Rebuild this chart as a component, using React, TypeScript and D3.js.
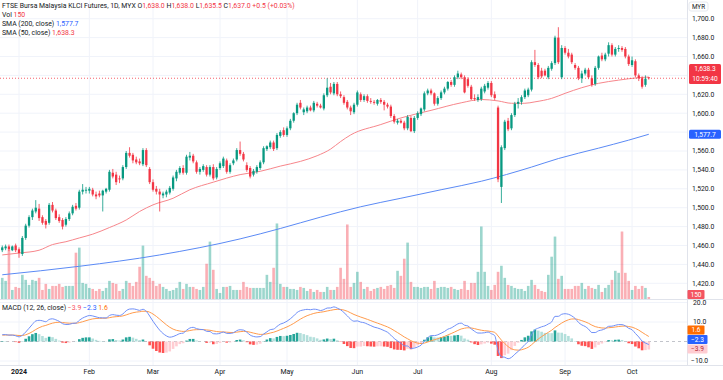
import React from "react";
import * as d3 from "d3";

const W = 723;
const H = 380;

// [open, high, low, close] per daily bar (late Dec 2023 -> 8 Oct 2024)
const candles: [number, number, number, number][] = [
  [1455, 1460, 1453, 1458], [1457, 1461, 1455, 1459], [1459, 1461, 1454, 1456], [1455, 1460, 1454, 1459], [1460, 1462, 1453, 1455],
  [1456, 1458, 1447, 1452], [1451, 1470, 1449, 1468], [1468, 1483, 1466, 1481], [1481, 1492, 1479, 1490], [1490, 1499, 1487, 1497],
  [1496, 1508, 1494, 1500], [1499, 1504, 1486, 1489], [1490, 1492, 1482, 1484], [1486, 1488, 1478, 1482], [1484, 1505, 1482, 1503],
  [1503, 1506, 1495, 1497], [1497, 1499, 1487, 1489], [1490, 1493, 1484, 1486], [1487, 1489, 1477, 1480], [1482, 1490, 1480, 1488],
  [1488, 1496, 1486, 1494], [1494, 1503, 1492, 1501], [1502, 1505, 1497, 1499], [1500, 1519, 1498, 1517], [1517, 1525, 1514, 1519],
  [1518, 1522, 1515, 1519], [1518, 1522, 1515, 1520], [1519, 1521, 1512, 1514], [1514, 1517, 1509, 1512], [1515, 1518, 1511, 1513],
  [1513, 1519, 1496, 1518], [1517, 1521, 1515, 1520], [1519, 1540, 1517, 1538], [1537, 1541, 1531, 1533], [1535, 1538, 1524, 1527],
  [1531, 1534, 1526, 1530], [1531, 1545, 1529, 1543], [1543, 1560, 1541, 1558], [1558, 1564, 1553, 1555], [1556, 1558, 1547, 1550],
  [1551, 1554, 1546, 1548], [1549, 1552, 1545, 1547], [1546, 1563, 1544, 1561], [1561, 1563, 1543, 1545], [1541, 1543, 1525, 1527],
  [1527, 1530, 1517, 1519], [1520, 1523, 1514, 1517], [1517, 1520, 1496, 1514], [1513, 1517, 1510, 1515], [1514, 1519, 1511, 1517],
  [1516, 1523, 1514, 1521], [1520, 1534, 1518, 1532], [1531, 1540, 1528, 1538], [1537, 1544, 1535, 1542], [1542, 1545, 1535, 1537],
  [1537, 1556, 1535, 1554], [1553, 1559, 1550, 1555], [1555, 1557, 1547, 1549], [1548, 1550, 1536, 1538], [1538, 1543, 1535, 1541],
  [1540, 1546, 1538, 1544], [1543, 1545, 1533, 1535], [1535, 1545, 1533, 1543], [1543, 1546, 1529, 1531], [1532, 1543, 1530, 1541],
  [1542, 1549, 1540, 1547], [1544, 1554, 1542, 1552], [1550, 1552, 1536, 1538], [1538, 1547, 1536, 1545], [1547, 1552, 1545, 1550],
  [1551, 1563, 1549, 1561], [1561, 1570, 1555, 1557], [1557, 1559, 1549, 1551], [1545, 1548, 1538, 1540], [1542, 1544, 1531, 1533],
  [1535, 1541, 1533, 1539], [1538, 1545, 1536, 1543], [1542, 1550, 1540, 1548], [1548, 1565, 1546, 1563], [1562, 1566, 1560, 1565],
  [1564, 1571, 1562, 1569], [1569, 1571, 1560, 1562], [1563, 1579, 1561, 1577], [1576, 1582, 1574, 1580], [1582, 1585, 1575, 1577],
  [1577, 1586, 1575, 1584], [1584, 1594, 1582, 1592], [1592, 1601, 1590, 1600], [1600, 1611, 1598, 1609], [1611, 1614, 1604, 1606],
  [1601, 1606, 1598, 1604], [1602, 1608, 1600, 1606], [1606, 1608, 1602, 1603], [1603, 1613, 1601, 1611], [1610, 1612, 1606, 1608],
  [1608, 1610, 1605, 1606], [1605, 1621, 1603, 1619], [1619, 1637, 1617, 1627], [1628, 1632, 1620, 1622], [1621, 1633, 1619, 1631],
  [1631, 1633, 1618, 1620], [1620, 1623, 1616, 1618], [1617, 1619, 1609, 1611], [1612, 1614, 1604, 1606], [1606, 1608, 1598, 1602],
  [1601, 1611, 1599, 1609], [1609, 1624, 1607, 1622], [1620, 1622, 1612, 1614], [1614, 1620, 1612, 1618], [1618, 1620, 1611, 1613],
  [1613, 1616, 1610, 1612], [1612, 1614, 1609, 1611], [1610, 1615, 1608, 1614], [1614, 1616, 1610, 1612], [1612, 1614, 1603, 1609],
  [1609, 1611, 1605, 1607], [1607, 1609, 1595, 1597], [1597, 1599, 1589, 1591], [1590, 1594, 1588, 1592], [1592, 1594, 1589, 1590],
  [1590, 1592, 1582, 1584], [1584, 1598, 1582, 1596], [1595, 1597, 1580, 1581], [1581, 1597, 1579, 1595], [1595, 1602, 1593, 1600],
  [1599, 1606, 1597, 1605], [1604, 1623, 1602, 1621], [1621, 1626, 1619, 1624], [1624, 1626, 1619, 1621], [1621, 1622, 1608, 1610],
  [1610, 1618, 1608, 1616], [1616, 1624, 1614, 1622], [1622, 1628, 1620, 1626], [1626, 1634, 1624, 1633], [1633, 1635, 1628, 1630],
  [1630, 1640, 1628, 1638], [1638, 1645, 1636, 1642], [1641, 1643, 1636, 1638], [1638, 1640, 1621, 1622], [1636, 1638, 1627, 1629],
  [1628, 1630, 1614, 1615], [1616, 1620, 1613, 1615], [1614, 1620, 1612, 1617], [1615, 1628, 1613, 1626], [1623, 1631, 1621, 1629],
  [1627, 1634, 1625, 1632], [1632, 1634, 1617, 1619], [1620, 1623, 1614, 1616], [1606, 1608, 1527, 1530], [1522, 1566, 1505, 1564],
  [1563, 1593, 1561, 1591], [1592, 1595, 1581, 1583], [1584, 1600, 1582, 1598], [1598, 1612, 1596, 1610], [1610, 1616, 1605, 1612],
  [1612, 1619, 1609, 1617], [1617, 1626, 1615, 1624], [1619, 1627, 1617, 1625], [1625, 1656, 1623, 1654], [1654, 1667, 1649, 1651],
  [1651, 1653, 1636, 1638], [1645, 1648, 1637, 1639], [1645, 1647, 1639, 1640], [1638, 1650, 1636, 1648], [1647, 1655, 1645, 1653],
  [1653, 1682, 1651, 1680], [1680, 1691, 1652, 1654], [1638, 1672, 1636, 1669], [1669, 1671, 1662, 1664], [1664, 1668, 1658, 1660],
  [1662, 1664, 1652, 1654], [1651, 1653, 1646, 1648], [1648, 1650, 1635, 1637], [1637, 1645, 1632, 1642], [1642, 1648, 1640, 1646],
  [1646, 1648, 1636, 1638], [1637, 1640, 1628, 1630], [1631, 1650, 1629, 1648], [1648, 1661, 1646, 1660], [1661, 1664, 1655, 1657],
  [1657, 1664, 1655, 1662], [1663, 1675, 1660, 1672], [1672, 1674, 1660, 1662], [1662, 1670, 1660, 1668], [1668, 1672, 1665, 1669],
  [1669, 1671, 1665, 1667], [1668, 1670, 1658, 1660], [1660, 1662, 1650, 1652], [1651, 1660, 1649, 1656], [1655, 1657, 1638, 1640],
  [1640, 1642, 1634, 1637], [1637, 1639, 1626, 1628], [1630, 1640, 1628, 1636.5], [1638, 1638, 1635.5, 1637],
];

// contracts traded per bar
const volumes: number[] = [
  1575, 1350, 3675, 675, 900, 825, 1800, 1425, 1050, 1425,
  1350, 1575, 675, 1125, 750, 975, 975, 1125, 900, 975,
  975, 975, 3450, 3825, 1200, 1125, 825, 750, 600, 750,
  600, 825, 1350, 1200, 1125, 600, 750, 1350, 1200, 975,
  1275, 2400, 3975, 1725, 1575, 1350, 975, 1125, 900, 750,
  600, 675, 825, 1275, 750, 1125, 900, 900, 750, 675,
  900, 2625, 4275, 2175, 750, 450, 900, 900, 975, 675,
  675, 675, 1275, 900, 825, 825, 825, 825, 825, 1800,
  1275, 2325, 5625, 1125, 900, 900, 750, 750, 675, 900,
  825, 600, 750, 525, 675, 525, 525, 900, 675, 675,
  900, 2325, 1500, 5550, 900, 1200, 2025, 1275, 750, 900,
  600, 750, 825, 900, 750, 975, 1050, 825, 2100, 1725,
  3000, 4200, 1275, 900, 900, 825, 900, 900, 750, 1350,
  825, 900, 900, 825, 900, 750, 675, 750, 1350, 675,
  1200, 1200, 2025, 5400, 2025, 975, 675, 1050, 2025, 2475,
  1575, 1050, 975, 825, 750, 750, 600, 975, 1425, 1050,
  750, 600, 525, 1800, 3150, 4650, 1500, 1725, 750, 750,
  750, 975, 975, 1200, 750, 975, 825, 750, 1050, 525,
  825, 1050, 1425, 2100, 1950, 5025, 1950, 1350, 675, 975,
  750, 975, 825, 150,
];

// moving averages read at bar indices: [barIndex, value]
const sma50: [number, number][] = [
  [0, 1450], [5, 1452], [11, 1455], [15, 1461], [19, 1464], [23, 1468], [27, 1472], [32, 1479],
  [37, 1487], [41, 1496], [45, 1503], [51, 1510], [56, 1519], [63, 1527], [71, 1535], [77, 1538.5],
  [83, 1544], [89, 1549], [94, 1555], [98, 1562], [101, 1570], [104, 1577], [113, 1588], [119, 1595],
  [128, 1603], [137, 1611], [143, 1614.5], [148, 1613], [152, 1610.5], [156, 1610.5], [159, 1612],
  [164, 1615.7], [168, 1621], [173, 1627], [178, 1631.6], [184, 1635], [190, 1637.6], [193, 1638.3],
];
const sma200: [number, number][] = [
  [0, 1429], [23, 1438], [47, 1450], [71, 1467], [83, 1478], [95, 1490], [107, 1501], [119, 1510],
  [131, 1519], [143, 1528], [158, 1543], [166, 1552], [178, 1563], [187, 1571.5], [193, 1577.7],
];

// EMA state carried in from December 2023 for MACD(12, 26, 9)
const macdSeed = { ema12: 1454.8, ema26: 1451.3, signal: 3.2 };
// values printed in the MACD legend / on its scale
const macdReadout = { hist: -3.9, macd: -2.3, signal: 1.6 };
const headerReadout = { change: "+0.5 (+0.03%)", countdown: "10:59:40" };

const monthTicks: { label: string; index: number }[] = [
  { label: "2024", index: 5 }, { label: "Feb", index: 26 }, { label: "Mar", index: 45 },
  { label: "Apr", index: 65 }, { label: "May", index: 85 }, { label: "Jun", index: 106 },
  { label: "Jul", index: 124 }, { label: "Aug", index: 146 }, { label: "Sep", index: 168 },
  { label: "Oct", index: 188 },
];
const priceTicks = [1420, 1440, 1460, 1480, 1500, 1520, 1540, 1560, 1580, 1600, 1620, 1640, 1660, 1680, 1700];
const macdTicks = [20, 10, -10];

const UP = "#089981";
const DOWN = "#f23645";
const FONT = "Roboto, 'Noto Sans', sans-serif";
const TXT = "#131722";

const sgn = (v: number) => d3.format(".1f")(v).replace("-", "\u2212");

export default function App() {
  const plotR = 687;
  const priceBottom = 299.5;
  const macdTop = 300;
  const macdBottom = 365.5;

  const x = d3.scaleLinear().domain([0, candles.length - 1]).range([2.25, 648.8]);
  const y = d3.scaleLinear().domain([1420, 1700]).range([283.3, 18.7]);
  const yVol = d3.scaleLinear().domain([0, 7000]).range([299, 205]);
  const yM = d3.scaleLinear().domain([-10, 10]).range([361, 322]);

  // MACD from closes
  const closes = candles.map((c) => c[3]);
  let e12 = macdSeed.ema12, e26 = macdSeed.ema26, sig = macdSeed.signal;
  const macd: number[] = [], signal: number[] = [], hist: number[] = [];
  closes.forEach((c) => {
    e12 += (2 / 13) * (c - e12);
    e26 += (2 / 27) * (c - e26);
    const m = e12 - e26;
    sig += (2 / 10) * (m - sig);
    macd.push(m);
    signal.push(sig);
    hist.push(m - sig);
  });

  const smaLine = d3.line<[number, number]>().x((d) => x(d[0])).y((d) => y(d[1])).curve(d3.curveMonotoneX);
  const macdLine = d3.line<number>().x((_, i) => x(i)).y((d) => yM(d)).curve(d3.curveMonotoneX);

  const bw = 2.3;
  const vw = 2.6;
  const last = candles[candles.length - 1];
  const lastVol = volumes[volumes.length - 1];
  const lastSma50 = sma50[sma50.length - 1][1];
  const lastSma200 = sma200[sma200.length - 1][1];

  const histColor = (h: number, i: number) => {
    const prev = i > 0 ? hist[i - 1] : h;
    if (h >= 0) return h >= prev ? "#26a69a" : "#b2dfdb";
    return h < prev ? "#ff5252" : "#ffcdd2";
  };

  const fmt = d3.format(",.1f");

  // price-scale boxes (hide tick labels they cover)
  const redBox = { top: y(lastSma50) - 13, bottom: y(lastSma50) + 7 };
  const blueBox = { top: y(lastSma200) - 4.5, bottom: y(lastSma200) + 4.5 };
  const visiblePriceTicks = priceTicks.filter((p) => {
    const yy = y(p);
    const hit = (b: { top: number; bottom: number }) => yy > b.top - 3 && yy < b.bottom + 3;
    return !hit(redBox) && !hit(blueBox);
  });

  // MACD scale boxes, stacked upward so they do not overlap
  const mBoxes = [
    { v: macdReadout.hist, fill: "#ffcdd2", color: "#b22833", w: 20 },
    { v: macdReadout.macd, fill: "#2962ff", color: "#fff", w: 20 },
    { v: macdReadout.signal, fill: "#ff6d00", color: "#fff", w: 17 },
  ]
    .map((b) => ({ ...b, cy: yM(b.v) }))
    .sort((a, b) => b.cy - a.cy);
  for (let k = 1; k < mBoxes.length; k++) {
    if (mBoxes[k - 1].cy - mBoxes[k].cy < 9.5) mBoxes[k].cy = mBoxes[k - 1].cy - 9.5;
  }

  return (
    <svg
      width={W}
      height={H}
      style={{ position: "absolute", left: 0, top: 0, background: "#fff" }}
      fontFamily={FONT}
    >
      <defs>
        <clipPath id="pclip"><rect x={0} y={0} width={plotR} height={priceBottom} /></clipPath>
        <clipPath id="mclip"><rect x={0} y={macdTop} width={plotR} height={macdBottom - macdTop} /></clipPath>
      </defs>
      <rect x={0} y={0} width={W} height={H} fill="#fff" />

      {/* grid */}
      <g stroke="#f0f3fa" strokeWidth={1}>
        {monthTicks.map((m) => (
          <line key={m.label} x1={x(m.index)} x2={x(m.index)} y1={0} y2={macdBottom} />
        ))}
        {priceTicks.map((p) => (
          <line key={p} x1={0} x2={plotR} y1={y(p)} y2={y(p)} />
        ))}
        {macdTicks.map((t) => (
          <line key={t} x1={0} x2={plotR} y1={yM(t)} y2={yM(t)} />
        ))}
      </g>

      {/* volume */}
      <g clipPath="url(#pclip)">
        {volumes.map((v, i) => {
          const c = candles[i];
          return (
            <rect
              key={i}
              x={x(i) - vw / 2}
              y={yVol(v)}
              width={vw}
              height={yVol(0) - yVol(v)}
              fill={c[3] >= c[0] ? UP : DOWN}
              fillOpacity={0.4}
            />
          );
        })}
      </g>

      {/* moving averages */}
      <g clipPath="url(#pclip)" fill="none">
        <path d={smaLine(sma200) || ""} stroke="#5b8af5" strokeWidth={1} />
        <path d={smaLine(sma50) || ""} stroke="#f7868b" strokeWidth={1} />
      </g>

      {/* last price line */}
      <line x1={0} x2={plotR} y1={y(last[3])} y2={y(last[3])} stroke={DOWN} strokeWidth={0.8} strokeDasharray="1,2" />

      {/* candles */}
      <g clipPath="url(#pclip)">
        {candles.map((c, i) => {
          const [o, h, l, cl] = c;
          const col = cl >= o ? UP : DOWN;
          const top = y(Math.max(o, cl));
          const bot = y(Math.min(o, cl));
          return (
            <g key={i}>
              <line x1={x(i)} x2={x(i)} y1={y(h)} y2={y(l)} stroke={col} strokeWidth={0.8} />
              <rect x={x(i) - bw / 2} y={top} width={bw} height={Math.max(0.8, bot - top)} fill={col} />
            </g>
          );
        })}
      </g>

      {/* pane separators */}
      <line x1={0} x2={W} y1={priceBottom} y2={priceBottom} stroke="#e0e3eb" strokeWidth={1} />
      <line x1={0} x2={W} y1={macdBottom} y2={macdBottom} stroke="#e0e3eb" strokeWidth={1} />
      <line x1={plotR + 0.5} x2={plotR + 0.5} y1={0} y2={macdBottom} stroke="#e0e3eb" strokeWidth={1} />

      {/* MACD pane */}
      <g clipPath="url(#mclip)">
        <line x1={0} x2={plotR} y1={yM(0)} y2={yM(0)} stroke="#b2b5be" strokeWidth={0.8} strokeDasharray="3,3" />
        {hist.map((h, i) => (
          <rect
            key={i}
            x={x(i) - vw / 2}
            y={Math.min(yM(h), yM(0))}
            width={vw}
            height={Math.abs(yM(h) - yM(0))}
            fill={histColor(h, i)}
          />
        ))}
        <path d={macdLine(signal) || ""} fill="none" stroke="#ff9b4d" strokeWidth={1} />
        <path d={macdLine(macd) || ""} fill="none" stroke="#6f8ff7" strokeWidth={1} />
      </g>

      {/* price scale */}
      <g fontSize={6.8} fill={TXT}>
        {visiblePriceTicks.map((p) => (
          <text key={p} x={692} y={y(p)} dy="0.35em">{fmt(p)}</text>
        ))}
        {macdTicks.map((t) => (
          <text key={t} x={t < 0 ? 691 : 693} y={yM(t)} dy="0.35em">{fmt(t)}</text>
        ))}
      </g>
      <rect x={689} y={2} width={19} height={9} rx={2} fill="#fff" stroke="#e0e3eb" strokeWidth={0.8} />
      <text x={698.5} y={6.5} dy="0.35em" fontSize={6.3} fill={TXT} textAnchor="middle">MYR</text>

      {/* value labels on the scale */}
      <g fontSize={6.6}>
        <rect x={689} y={redBox.top} width={32} height={redBox.bottom - redBox.top} rx={1.5} fill={DOWN} />
        <text x={705} y={y(lastSma50) - 8} dy="0.35em" fill="#fff" textAnchor="middle">{fmt(lastSma50)}</text>
        <text x={705} y={y(lastSma50) + 2} dy="0.35em" fill="#fff" textAnchor="middle">{headerReadout.countdown}</text>

        <rect x={689} y={blueBox.top} width={32} height={blueBox.bottom - blueBox.top} rx={1.5} fill="#2962ff" />
        <text x={705} y={y(lastSma200)} dy="0.35em" fill="#fff" textAnchor="middle">{fmt(lastSma200)}</text>

        <rect x={687.5} y={yVol(lastVol) - 7} width={17} height={9} rx={1} fill={DOWN} fillOpacity={0.85} />
        <text x={696} y={yVol(lastVol) - 2.5} dy="0.35em" fill="#fff" textAnchor="middle">{lastVol}</text>

        {mBoxes.map((b) => (
          <g key={b.fill}>
            <rect x={687.5} y={b.cy - 4.5} width={b.w} height={9} rx={1} fill={b.fill} />
            <text x={687.5 + b.w / 2} y={b.cy} dy="0.35em" fill={b.color} textAnchor="middle">{sgn(b.v)}</text>
          </g>
        ))}
      </g>

      {/* time axis */}
      <g fontSize={7} fill={TXT} textAnchor="middle">
        {monthTicks.map((m, k) => (
          <text key={m.label} x={x(m.index)} y={372} dy="0.35em" fontWeight={k === 0 ? 700 : 400}>{m.label}</text>
        ))}
      </g>

      {/* legends */}
      <g fontSize={6.9} fill={TXT}>
        <text x={2} y={6} dy="0.35em">
          FTSE Bursa Malaysia KLCI Futures, 1D, MYX{"  "}
          <tspan>O</tspan><tspan fill={DOWN}>{fmt(last[0])}</tspan>
          <tspan> H</tspan><tspan fill={DOWN}>{fmt(last[1])}</tspan>
          <tspan> L</tspan><tspan fill={DOWN}>{fmt(last[2])}</tspan>
          <tspan> C</tspan><tspan fill={DOWN}>{fmt(last[3])} {headerReadout.change}</tspan>
        </text>
        <text x={2} y={15} dy="0.35em">Vol <tspan fill={DOWN}>{lastVol}</tspan></text>
        <text x={2} y={24} dy="0.35em">SMA (200, close) <tspan fill="#2962ff">{fmt(lastSma200)}</tspan></text>
        <text x={2} y={33} dy="0.35em">SMA (50, close) <tspan fill={DOWN}>{fmt(lastSma50)}</tspan></text>
        <text x={2} y={308} dy="0.35em">
          MACD (12, 26, close){"  "}
          <tspan fill="#f7525f">{sgn(macdReadout.hist)}</tspan>
          <tspan fill="#2962ff">{"  " + sgn(macdReadout.macd)}</tspan>
          <tspan fill="#ff6d00">{"  " + sgn(macdReadout.signal)}</tspan>
        </text>
      </g>
    </svg>
  );
}
